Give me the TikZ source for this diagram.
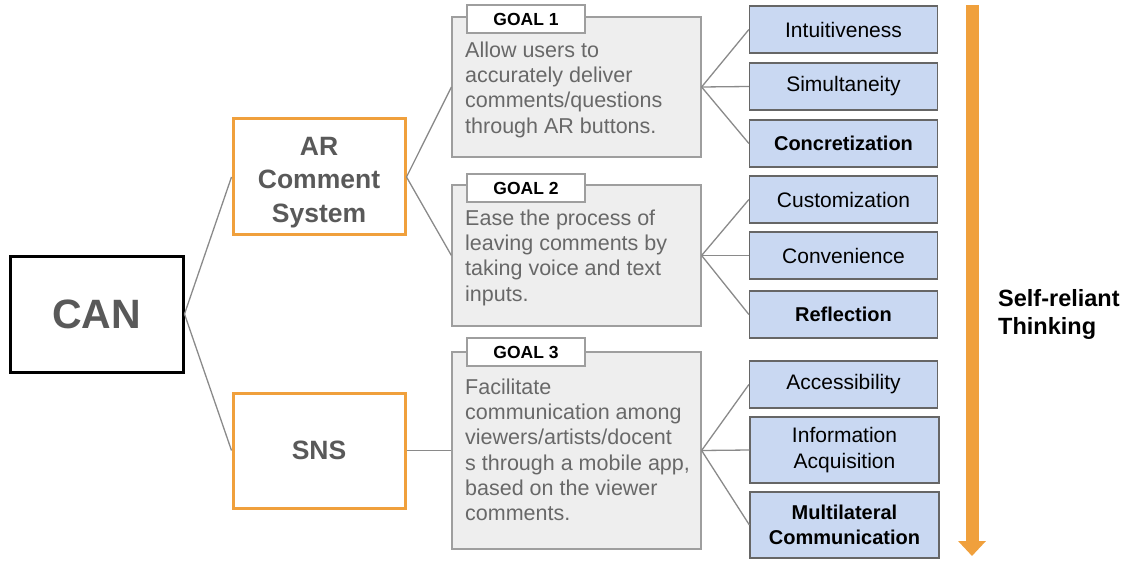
\documentclass[tikz,border=0pt]{standalone}
\usepackage{fontspec}
\setmainfont{Liberation Sans}
\usetikzlibrary{arrows.meta}
\definecolor{orangeC}{HTML}{F0A03C}
\definecolor{goalFill}{HTML}{EEEEEE}
\definecolor{goalLine}{HTML}{9E9E9E}
\definecolor{blueFill}{HTML}{C9D8F2}
\definecolor{blueLine}{HTML}{666666}
\definecolor{darkText}{HTML}{595959}
\definecolor{goalText}{HTML}{686868}
\definecolor{linkC}{HTML}{8A8A8A}
\tikzset{
  rootbox/.style={draw=black, line width=3pt, minimum width=173pt, minimum height=116pt,
    inner sep=0pt, font=\bfseries\fontsize{41}{48}\selectfont, text=darkText},
  sysbox/.style={draw=orangeC, line width=3pt, minimum width=172pt, minimum height=116pt,
    inner sep=0pt, align=center, font=\bfseries\fontsize{26.5}{33.5}\selectfont, text=darkText},
  goalbox/.style={draw=goalLine, fill=goalFill, line width=1.2pt, minimum width=249pt, inner sep=0pt},
  goaltag/.style={draw=goalLine, fill=white, line width=1.2pt, minimum width=118pt, minimum height=28pt,
    inner sep=0pt, font=\bfseries\fontsize{17.5}{18}\selectfont, text=black},
  goaltext/.style={anchor=north west, inner sep=0pt, align=left, text=goalText,
    font=\fontsize{21.5}{25.3}\selectfont},
  traitbox/.style={draw=blueLine, fill=blueFill, line width=1.2pt, minimum width=188pt, minimum height=47pt,
    inner sep=0pt, align=center, font=\fontsize{21}{25.5}\selectfont, text=black},
  keytrait/.style={traitbox, font=\bfseries\fontsize{20}{25.5}\selectfont},
  link/.style={draw=linkC, line width=1.3pt},
}
\begin{document}
\begin{tikzpicture}[x=1pt, y=-1pt]
\useasboundingbox (0,0) rectangle (1131,561);

% root and the two systems (the strut lowers the three lines a little)
\node[rootbox] (can) at (96.5,314) {CAN};
\node[sysbox] (ar) at (319,177) {\rule{0pt}{29pt}AR\\Comment\\System};
\node[sysbox, minimum height=115pt] (sns) at (319,450.5) {SNS};

% goal panels
\node[goalbox, minimum height=140pt] (g1) at (576.5,87) {};
\node[goalbox, minimum height=141pt] (g2) at (576.5,255.5) {};
\node[goalbox, minimum height=197pt] (g3) at (576.5,450.5) {};
\node[goaltag] (t1) at (526,19) {GOAL 1};
\node[goaltag] (t2) at (526,188) {GOAL 2};
\node[goaltag] (t3) at (526,352) {GOAL 3};
\node[goaltext] (d1) at (465,41.5) {Allow users to\\accurately deliver\\comments/questions\\through AR buttons.};
\node[goaltext] (d2) at (465,209.5) {Ease the process of\\leaving comments by\\taking voice and text\\inputs.};
\node[goaltext] (d3) at (465,378.5) {Facilitate\\communication among\\viewers/artists/docent\\s through a mobile app,\\based on the viewer\\comments.};

% traits
\node[traitbox] (a1) at (843.5,29.5) {Intuitiveness};
\node[traitbox] (a2) at (843.5,86.5) {Simultaneity};
\node[keytrait] (a3) at (843.5,143.5) {Concretization};
\node[traitbox] (b1) at (843.5,199.5) {Customization};
\node[traitbox] (b2) at (843.5,255.5) {Convenience};
\node[keytrait] (b3) at (843.5,314.5) {Reflection};
\node[traitbox] (c1) at (843.5,384.5) {Accessibility};
\node[traitbox, minimum width=189pt, minimum height=66pt] (c2) at (844.5,450) {Information\\Acquisition};
\node[keytrait, minimum width=189pt, minimum height=66pt] (c3) at (844.5,525) {Multilateral\\Communication};

% connectors
\draw[link] (can.east) -- (ar.west);
\draw[link] (can.east) -- (sns.west);
\draw[link] (ar.east) -- (g1.west);
\draw[link] (ar.east) -- (g2.west);
\draw[link] (sns.east) -- (g3.west);
\foreach \g/\p in {g1/a, g2/b, g3/c}{
  \foreach \i in {1,2,3}{
    \draw[link] (\g.east) -- (\p\i.west);
  }
}

% progression arrow
\coordinate (arrtop) at (972,5);
\coordinate (arrtip) at (972,556);
\draw[orangeC, line width=13pt, -{Triangle[width=27pt,length=15pt]}] (arrtop) -- (arrtip);
\node[anchor=west, align=left, inner sep=0pt, font=\bfseries\fontsize{23.5}{28}\selectfont, text=black]
  (lbl) at (998,314) {Self-reliant\\Thinking};
\end{tikzpicture}
\end{document}
